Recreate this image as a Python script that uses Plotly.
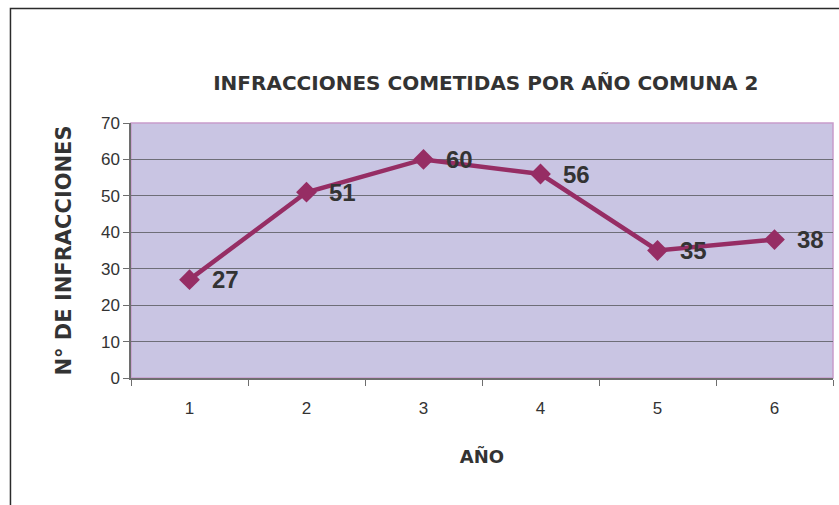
import plotly.graph_objects as go

# Infracciones por año, comuna 2
anios = [1, 2, 3, 4, 5, 6]
infracciones = [27, 51, 60, 56, 35, 38]
y_ticks = [0, 10, 20, 30, 40, 50, 60, 70]

titulo = "INFRACCIONES COMETIDAS POR AÑO COMUNA 2"
titulo_x = "AÑO"
titulo_y = "N° DE INFRACCIONES"

linea = "#962D64"
texto = "#333333"
eje = "#6E6E6E"
fuente_titulos = "DejaVu Sans, Verdana, sans-serif"
fuente_numeros = "Arial, Liberation Sans, sans-serif"

fig = go.Figure()
fig.add_trace(go.Scatter(
    x=anios,
    y=infracciones,
    mode="lines+markers",
    line=dict(color=linea, width=4.5),
    marker=dict(symbol="diamond", size=16, color=linea),
    cliponaxis=False,
    showlegend=False,
))

# etiquetas de valor a la derecha de cada punto
for a, v in zip(anios, infracciones):
    fig.add_annotation(x=a, y=v, text="<b>%d</b>" % v, showarrow=False,
                       xanchor="left", yanchor="middle", xshift=20,
                       font=dict(family=fuente_numeros, size=24, color=texto))

# marco exterior del gráfico
fig.add_shape(type="rect", xref="paper", yref="paper",
              x0=-0.1717, x1=1.2, y0=-1.0, y1=1.449,
              line=dict(color="#2B2B2B", width=1.5), fillcolor="rgba(0,0,0,0)",
              layer="below")
# borde del área de trazado
fig.add_shape(type="rect", xref="paper", yref="paper",
              x0=0, x1=1, y0=0, y1=1,
              line=dict(color="#C89CCB", width=1.5), fillcolor="rgba(0,0,0,0)",
              layer="below")

fig.update_layout(
    width=839, height=505,
    margin=dict(l=131, r=6, t=123, b=127),
    paper_bgcolor="white",
    plot_bgcolor="#C9C5E3",
    title=dict(text="<b>" + titulo + "</b>", x=0.579, xanchor="center",
               y=0.835, yanchor="middle",
               font=dict(family=fuente_titulos, size=20, color=texto)),
    font=dict(family=fuente_numeros, size=17, color=texto),
)

fig.update_xaxes(
    range=[0.5, 6.5],
    tickmode="array", tickvals=anios, ticktext=[str(a) for a in anios],
    ticks="", showgrid=False, zeroline=False,
    showline=True, linecolor=eje, linewidth=1.5,
    tickfont=dict(size=17, color=texto),
    ticklabelstandoff=14,
    minor=dict(tickmode="array", tickvals=[0.5 + i for i in range(7)],
               ticks="outside", ticklen=6, tickcolor=eje, tickwidth=1.2, showgrid=False),
    title=dict(text="<b>" + titulo_x + "</b>", standoff=33,
               font=dict(family=fuente_titulos, size=18, color=texto)),
)

fig.update_yaxes(
    range=[0, 70],
    tickmode="array", tickvals=y_ticks,
    ticks="outside", ticklen=6, tickcolor=eje, tickwidth=1.2,
    showgrid=True, gridcolor="#6E6E78", gridwidth=1.3,
    zeroline=False,
    showline=True, linecolor=eje, linewidth=1.5,
    tickfont=dict(size=17, color=texto),
    title=dict(text="<b>" + titulo_y + "</b>", standoff=24,
               font=dict(family=fuente_titulos, size=21, color=texto)),
)

fig.write_html("out.html")
